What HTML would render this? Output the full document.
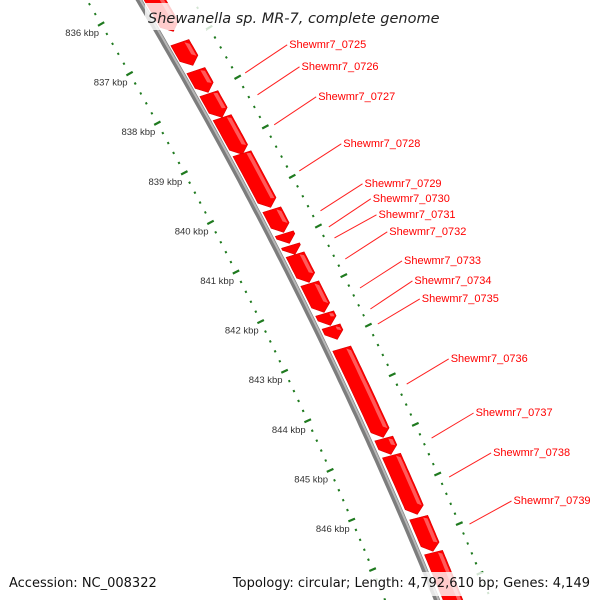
<!DOCTYPE html>
<html><head><meta charset="utf-8"><style>
html,body{margin:0;padding:0;background:#fff;}
svg{display:block;font-family:"Liberation Sans","DejaVu Sans",sans-serif;}
</style></head><body>
<svg id="map" width="600" height="600" viewBox="0 0 600 600" xmlns="http://www.w3.org/2000/svg">
<g id="inner"></g>
<g id="outer"></g>
<g id="backbone"></g>
<g id="genes"></g>
<g id="labels"></g>
<rect x="145" y="3" width="295" height="27" fill="#fff" fill-opacity="0.8"/>
<text x="148" y="23" font-size="14.5" font-style="italic" fill="#222" style="font-family:'DejaVu Sans','Liberation Sans',sans-serif">Shewanella sp. MR-7, complete genome</text>
<rect x="255" y="572" width="342" height="24" fill="#fff" fill-opacity="0.8"/>
<text x="9" y="587" font-size="13" fill="#111" style="font-family:'DejaVu Sans','Liberation Sans',sans-serif">Accession: NC_008322</text>
<text x="590" y="587" font-size="13" fill="#111" text-anchor="end" style="font-family:'DejaVu Sans','Liberation Sans',sans-serif">Topology: circular; Length: 4,792,610 bp; Genes: 4,149</text>
</svg>
<script>
const kbpTicks = [836,837,838,839,840,841,842,843,844,845,846];
const geneStarts = [835300,836363,836927,837391,837875,838601,839730,840213,840455,840637,841221,841826,842088,842532,844346,844689,845939,846644];
const geneEnds   = [836161,836847,837391,837895,838641,839709,840213,840435,840657,841221,841826,842088,842370,844346,844689,845899,846644,848015];
const geneNames = ["Shewmr7_0725","Shewmr7_0726","Shewmr7_0727","Shewmr7_0728","Shewmr7_0729","Shewmr7_0730","Shewmr7_0731","Shewmr7_0732","Shewmr7_0733","Shewmr7_0734","Shewmr7_0735","Shewmr7_0736","Shewmr7_0737","Shewmr7_0738","Shewmr7_0739"];
const labelAnchorBp = [836985,837427,838032,838961,839767,840090,840312,840737,841322,841745,842048,843260,844349,845136,846083];
const labelTextBp = [836419,836862,837467,838415,839222,839524,839847,840190,840776,841179,841543,842753,843842,844648,845617];

const NS="http://www.w3.org/2000/svg";
function yOf(bp){return 24+(bp/1000-836)*49.6;}
function xb(y){return 139+0.59*y-0.0001556*y*y;}
function slope(y){return 0.59-0.0003112*y;}
function mk(tag,attrs,parent){const e=document.createElementNS(NS,tag);for(const k in attrs)e.setAttribute(k,attrs[k]);parent.appendChild(e);return e;}
function pt(y,o){const m=slope(y);return [xb(y)+o,y-(o)*m*0.0];}

// backbone
const bb=document.getElementById('backbone');
let d1='',d2='';
for(let y=-10;y<=610;y+=5){d1+=(y===-10?'M':'L')+xb(y).toFixed(1)+','+y+' ';d2+=(y===-10?'M':'L')+(xb(y)+1.5).toFixed(1)+','+y+' ';}
const bbMain=mk('path',{d:d1,stroke:'#7d7d7d','stroke-width':6,fill:'none'},bb);


const bbHi=mk('path',{d:d2,stroke:'#b8b8b8','stroke-width':2,fill:'none'},bb);



// rulers
const inner=document.getElementById('inner'), outer=document.getElementById('outer');
function dash(g,y,off,len,w,name){
  const x=xb(y)+off, m=slope(y), n=Math.sqrt(1+m*m), ux=1/n, uy=-m/n;
  const l=mk('line',{x1:(x-ux*len).toFixed(1),y1:(y-uy*len).toFixed(1),x2:(x+ux*len).toFixed(1),y2:(y+uy*len).toFixed(1),stroke:'#1f7a1f','stroke-width':w},g);
  
  
}
for(let k=kbpTicks[0]-1;k<=kbpTicks[kbpTicks.length-1]+1;k++){
  for(let j=0;j<5;j++){
    const kb=k+j*0.2, yi=24+(kb-836)*49.6, yo=yi+3.6;
    const major=(j===0);
    if(yi>-5&&yi<605) dash(inner,yi,-52,major?3.6:1,major?2.2:2.2,major?'inner-major-tick':'inner-minor-tick');
    if(yo>-5&&yo<605) dash(outer,yo,54,major?3.6:1,major?2.2:2.2,major?'outer-major-tick':'outer-minor-tick');
  }
}
kbpTicks.forEach(k=>{
  const y=yOf(k*1000), x=xb(y)-52;
  const t=mk('text',{x:(x-2).toFixed(1),y:(y+12).toFixed(1),'font-size':9.5,fill:'#333','text-anchor':'end'},inner);
  
  
  t.textContent=k+' kbp';
});

// genes
const gg=document.getElementById('genes');
const C=16,H=9,AR=7;
function gp(y,o){const m=slope(y);return [(xb(y)+C+o),(y-o*m*0.6)];}
geneStarts.forEach((s,i)=>{
  const ys=yOf(s)+0.6, ye=yOf(geneEnds[i])-0.6;
  const ya=Math.max(ys+1,ye-AR);
  const pts=[];
  for(let y=ys;y<ya;y+=3)pts.push(gp(y,-H));
  pts.push(gp(ya,-H));pts.push(gp(ye,0));pts.push(gp(ya,H));
  for(let y=ya;y>ys;y-=3)pts.push(gp(y,H));
  pts.push(gp(ys,H));
  const p=mk('polygon',{points:pts.map(a=>a[0].toFixed(1)+','+a[1].toFixed(1)).join(' '),fill:'#ff0000',stroke:'#d80000','stroke-width':0.6},gg);
  
  
  const hp=[];
  for(let y=ys+1;y<ya;y+=3)hp.push(gp(y,4));
  for(let y=ya;y>ys+1;y-=3)hp.push(gp(y,7.5));
  if(hp.length>2){
    const h=mk('polygon',{points:hp.map(a=>a[0].toFixed(1)+','+a[1].toFixed(1)).join(' '),fill:'#ff5a5a'},gg);
    
    
  }
});

// labels
const lg=document.getElementById('labels');
geneNames.forEach((nm,i)=>{
  const y1=yOf(labelAnchorBp[i]), x1=xb(y1)+64;
  const y2=yOf(labelTextBp[i]), x2=x1+42;
  const ln=mk('line',{x1:x1.toFixed(1),y1:y1.toFixed(1),x2:x2.toFixed(1),y2:y2.toFixed(1),stroke:'#ff2020','stroke-width':1},lg);
  
  
  const t=mk('text',{x:(x2+2).toFixed(1),y:(y2+3).toFixed(1),'font-size':11,fill:'#ff0000'},lg);
  
  
  t.textContent=nm;
});
</script>
</body></html>
